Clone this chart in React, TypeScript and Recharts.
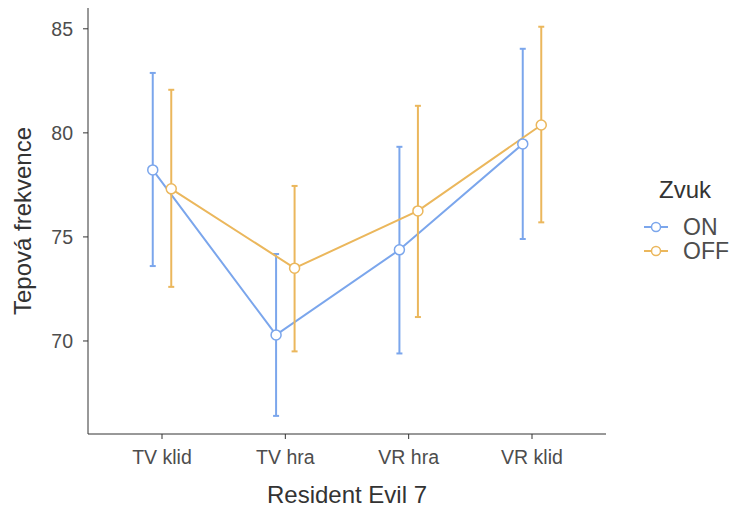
import { ComposedChart, Line, XAxis, YAxis, ErrorBar, Label } from "recharts";

const categories = ["TV klid", "TV hra", "VR hra", "VR klid"];
const onMean = [78.22, 70.29, 74.38, 79.47];
const onLow = [73.6, 66.4, 69.4, 74.9];
const onHigh = [82.88, 74.18, 79.33, 84.04];
const offMean = [77.31, 73.5, 76.25, 80.38];
const offLow = [72.6, 69.5, 71.15, 75.7];
const offHigh = [82.07, 77.45, 81.3, 85.1];
const yTicks = [70, 75, 80, 85];
const groups = ["ON", "OFF"];

const blue = "#7BA6EC";
const orange = "#EBB75C";
const font = "'Liberation Sans', Arial, sans-serif";
const dodge = 0.075;

const build = (mean: number[], low: number[], high: number[], shift: number) =>
  categories.map((name, i) => ({
    name,
    x: i + 1 + shift,
    y: mean[i],
    err: [mean[i] - low[i], high[i] - mean[i]]
  }));

const onRows = build(onMean, onLow, onHigh, -dodge);
const offRows = build(offMean, offLow, offHigh, dodge);
const colors = [blue, orange];

function LegendBox() {
  return (
    <div style={{ position: "absolute", left: 644, top: 176, fontFamily: font }}>
      <div style={{ fontSize: 24, height: 28, lineHeight: "28px", marginLeft: 15, marginBottom: 11, color: "#333" }}>
        Zvuk
      </div>
      {groups.map((g, i) => (
        <div key={g} style={{ display: "flex", alignItems: "center", height: 24 }}>
          <svg width={26} height={14}>
            <line x1={0} x2={24} y1={7} y2={7} stroke={colors[i]} strokeWidth={2} />
            <circle cx={12} cy={7} r={4.5} fill="#fff" stroke={colors[i]} strokeWidth={1.5} />
          </svg>
          <span style={{ fontSize: 23, marginLeft: 13, color: "#4D4D4D", lineHeight: "24px" }}>{g}</span>
        </div>
      ))}
    </div>
  );
}

export default function App() {
  return (
    <div style={{ position: "absolute", left: 0, top: 0, width: 734, height: 508, background: "#fff" }}>
      <ComposedChart width={734} height={508} margin={{ top: 8, right: 128, left: 0, bottom: 0 }}>
        <XAxis
          type="number"
          dataKey="x"
          domain={[0.4, 4.6]}
          ticks={[1, 2, 3, 4]}
          tickFormatter={(v: number) => categories[v - 1]}
          height={74}
          stroke="#333"
          tickSize={5}
          tickMargin={11}
          tick={{ fill: "#4D4D4D", fontSize: 19.5, fontFamily: font }}
          allowDataOverflow
        >
          <Label value="Resident Evil 7" position="insideBottom" offset={5} style={{ fill: "#333", fontSize: 24, fontFamily: font }} />
        </XAxis>
        <YAxis
          type="number"
          domain={[65.53, 86.0]}
          ticks={yTicks}
          width={88}
          stroke="#333"
          tickSize={5}
          tickMargin={10}
          tick={{ fill: "#4D4D4D", fontSize: 19.5, fontFamily: font }}
          allowDataOverflow
        >
          <Label
            value="Tepová frekvence"
            angle={-90}
            position="insideLeft"
            offset={22}
            style={{ textAnchor: "middle", fill: "#333", fontSize: 24, fontFamily: font }}
          />
        </YAxis>
        {[onRows, offRows].map((rows, i) => (
          <Line
            key={groups[i]}
            data={rows}
            dataKey="y"
            name={groups[i]}
            stroke={colors[i]}
            strokeWidth={2}
            isAnimationActive={false}
            dot={{ r: 5, fill: "#fff", stroke: colors[i], strokeWidth: 1.5 }}
            activeDot={false}
          >
            <ErrorBar dataKey="err" direction="y" width={3} stroke={colors[i]} strokeWidth={2} isAnimationActive={false} />
          </Line>
        ))}
      </ComposedChart>
      <LegendBox />
    </div>
  );
}
